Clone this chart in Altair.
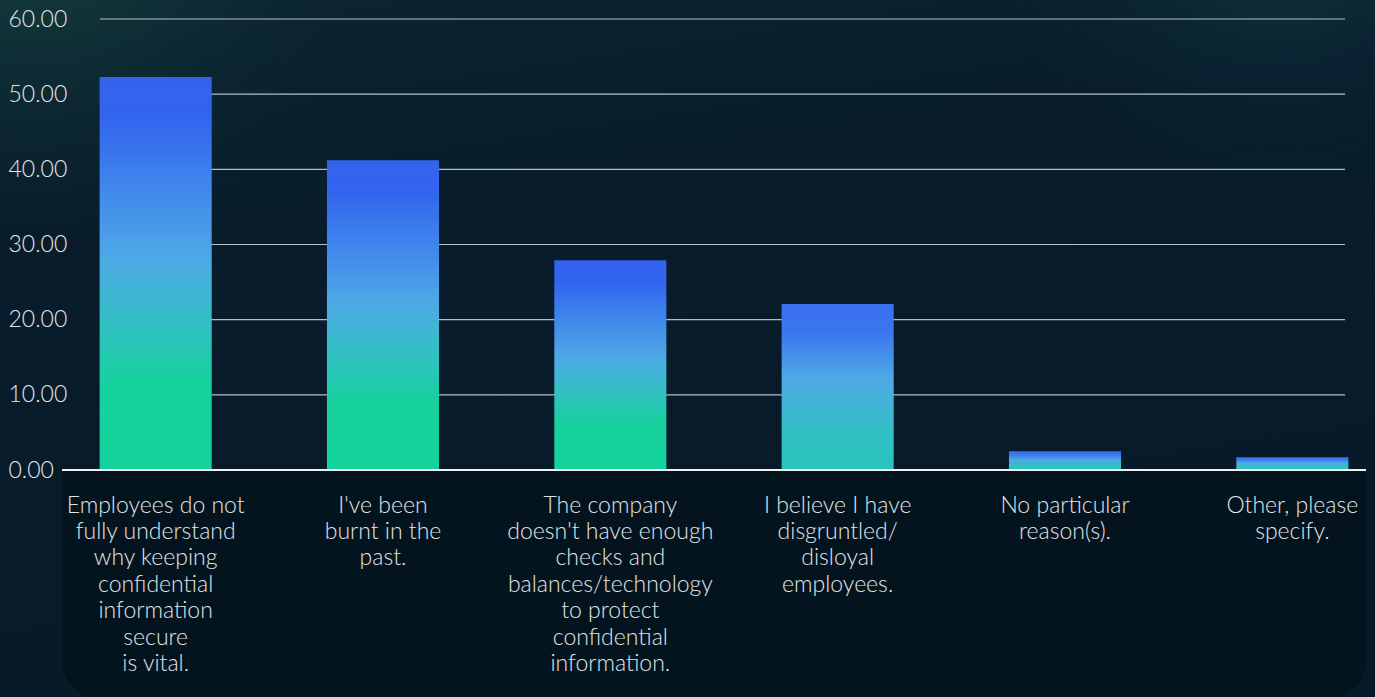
import altair as alt
import pandas as pd

# Survey answers (wrapped as they appear under each bar) and their scores
categories = [
    "Employees do not\nfully understand\nwhy keeping\nconfidential\ninformation\nsecure\nis vital.",
    "I've been\nburnt in the\npast.",
    "The company\ndoesn't have enough\nchecks and\nbalances/technology\nto protect\nconfidential\ninformation.",
    "I believe I have\ndisgruntled/\ndisloyal\nemployees.",
    "No particular\nreason(s).",
    "Other, please\nspecify.",
]
values = [52.3, 41.2, 27.9, 22.1, 2.5, 1.7]
y_ticks = [0, 10, 20, 30, 40, 50, 60]

W, H = 1304, 451
PAD = {"left": 62, "top": 19, "right": 9, "bottom": 227}

bars_df = pd.DataFrame({"answer": categories, "score": values, "idx": range(len(values))})
ticks_df = pd.DataFrame({"v": y_ticks})
one = pd.DataFrame({"k": [0]})

x_enc = alt.X(
    "answer:N",
    sort=categories,
    scale=alt.Scale(domain=categories, range=[-20, 1344], paddingInner=0.507, paddingOuter=0.2535),
    axis=alt.Axis(
        title=None, domain=False, ticks=False, labelAngle=0, labelPadding=24,
        labelExpr="split(datum.label, '\\n')", labelLineHeight=26.4,
        labelBaseline="top", labelAlign="center", labelLimit=0, labelOverlap=False,
        labelFontSize=23, zindex=2,
    ),
)
y_scale = alt.Scale(domain=[0, 60], nice=False, zero=True)
y_axis = alt.Axis(
    title=None, values=y_ticks, format=".2f", domain=False, ticks=False, tickSize=0,
    grid=False, labelAlign="left", labelPadding=54, labelFontSize=23, zindex=2,
)

# Backdrop: dark navy with teal haze toward the top corners
backdrop = alt.Chart(one).mark_rect(
    fill=alt.Gradient(
        gradient="linear", x1=0, y1=0, x2=0.3, y2=1,
        stops=[
            alt.GradientStop(color="#0c2630", offset=0),
            alt.GradientStop(color="#081c2b", offset=0.35),
            alt.GradientStop(color="#071a29", offset=1),
        ],
    )
).encode(x=alt.value(-PAD["left"]), x2=alt.value(W + PAD["right"]),
         y=alt.value(-PAD["top"]), y2=alt.value(H + PAD["bottom"]))

glow_left = alt.Chart(one).mark_rect(
    fill=alt.Gradient(
        gradient="radial", x1=0.05, y1=0.1, r1=0, x2=0.05, y2=0.1, r2=0.55,
        stops=[
            alt.GradientStop(color="rgba(40,110,80,0.45)", offset=0),
            alt.GradientStop(color="rgba(30,90,80,0.18)", offset=0.5),
            alt.GradientStop(color="rgba(20,60,70,0)", offset=1),
        ],
    )
).encode(x=alt.value(-PAD["left"]), x2=alt.value(560),
         y=alt.value(-PAD["top"]), y2=alt.value(260))

glow_right = alt.Chart(one).mark_rect(
    fill=alt.Gradient(
        gradient="radial", x1=0.8, y1=0.1, r1=0, x2=0.8, y2=0.1, r2=0.6,
        stops=[
            alt.GradientStop(color="rgba(30,95,90,0.40)", offset=0),
            alt.GradientStop(color="rgba(20,70,80,0.15)", offset=0.55),
            alt.GradientStop(color="rgba(20,60,70,0)", offset=1),
        ],
    )
).encode(x=alt.value(850), x2=alt.value(W + PAD["right"]),
         y=alt.value(-PAD["top"]), y2=alt.value(200))

# Darker rounded panel under the baseline
panel = alt.Chart(one).mark_rect(
    fill="#03141e", cornerRadiusBottomLeft=40, cornerRadiusBottomRight=40
).encode(x=alt.value(0), x2=alt.value(W), y=alt.value(H), y2=alt.value(H + 230))

grid = alt.Chart(ticks_df).transform_filter("datum.v > 0").mark_rule(
    color="#c8cfd6", strokeWidth=1.2, opacity=0.9
).encode(y=alt.Y("v:Q", scale=y_scale, axis=y_axis), x=alt.value(38), x2=alt.value(1283))

tall_fill = alt.Gradient(
    gradient="linear", x1=0, y1=0, x2=0, y2=1,
    stops=[
        alt.GradientStop(color="#3462ef", offset=0),
        alt.GradientStop(color="#3264ef", offset=0.1),
        alt.GradientStop(color="#4ea9e6", offset=0.46),
        alt.GradientStop(color="#34bfc6", offset=0.62),
        alt.GradientStop(color="#17d19d", offset=0.78),
        alt.GradientStop(color="#14d39b", offset=1),
    ],
)
short_fill = alt.Gradient(
    gradient="linear", x1=0, y1=0, x2=0, y2=1,
    stops=[
        alt.GradientStop(color="#3970ef", offset=0),
        alt.GradientStop(color="#3a76ee", offset=0.17),
        alt.GradientStop(color="#4ea9e6", offset=0.45),
        alt.GradientStop(color="#33bec6", offset=0.75),
        alt.GradientStop(color="#29c4bb", offset=1),
    ],
)

bars_tall = alt.Chart(bars_df).transform_filter("datum.idx < 3").mark_bar(fill=tall_fill).encode(
    x=x_enc, y=alt.Y("score:Q", scale=y_scale, axis=y_axis)
)
bars_short = alt.Chart(bars_df).transform_filter("datum.idx >= 3").mark_bar(fill=short_fill).encode(
    x=x_enc, y=alt.Y("score:Q", scale=y_scale, axis=y_axis)
)

baseline = alt.Chart(ticks_df).transform_filter("datum.v == 0").mark_rule(
    color="#f2f2f2", strokeWidth=2
).encode(y=alt.Y("v:Q", scale=y_scale, axis=y_axis), x=alt.value(0), x2=alt.value(W))

chart = alt.layer(
    backdrop, glow_left, glow_right, panel, grid, bars_tall, bars_short, baseline
).properties(
    width=W, height=H, padding=PAD,
    autosize=alt.AutoSizeParams(type="none"),
    background="#081b2b",
).configure_view(stroke=None).configure_axis(
    labelFont="Lato", labelFontWeight=300, labelColor="#e2e5e8"
)

chart.save("out.html", embed_options={"renderer": "svg", "actions": False})
